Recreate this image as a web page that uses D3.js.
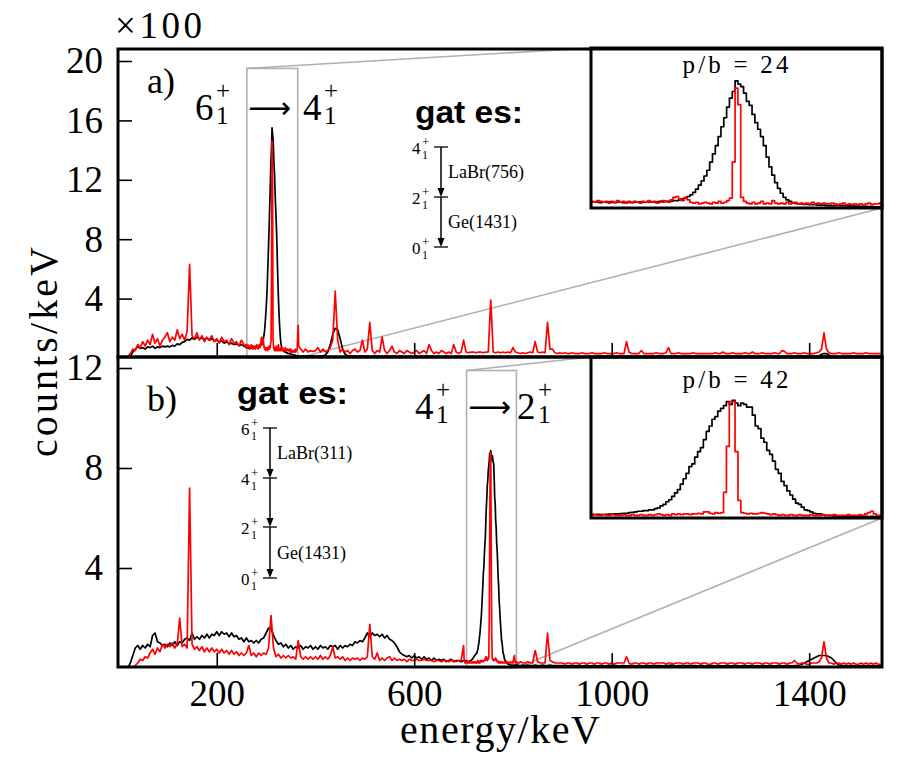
<!DOCTYPE html>
<html>
<head>
<meta charset="utf-8">
<script src="https://cdn.jsdelivr.net/npm/d3@7"></script>
<style>
  body { margin: 0; background: #fff; }
</style>
</head>
<body>
<div id="chart"></div>
<script>
"use strict";

// coarse spectra, 5 keV bins starting at 0 keV (counts / 100)
const binWidth = 5;

const aBlack = [
  0,0,0,0,0,0.1,0.4,0.6,0.75,0.65,0.7,0.6,0.75,0.7,0.8,0.65,0.75,0.7,0.8,0.75,
  0.8,0.75,0.85,0.8,0.95,0.9,1.05,1.1,1.25,1.2,1.35,1.25,1.4,1.3,1.35,1.25,1.35,1.2,1.3,1.15,
  1.2,1.1,1.15,1.0,1.1,0.95,1.0,0.9,0.95,0.85,0.9,0.8,0.85,0.75,0.8,0.7,0.75,0.7,0.8,1.4,
  8,15,8,2,0.6,0.4,0.3,0.25,0.2,0.2,0.18,0.15,0.15,0.15,0.12,0.12,0.12,0.12,0.12,0.12,
  0.12,0.12,0.15,0.15,0.2,0.4,0.9,1.6,2.0,1.9,1.3,0.6,0.25,0.15,0.15,0.12,0.12,0.12,0.12,0.12,
  0.12,0.12,0.1,0.12,0.12,0.1,0.12,0.1,0.12,0.12,0.1,0.12,0.12,0.1,0.12,0.12,0.1,0.1,0.12,0.1,
  0.1,0.12,0.1,0.12,0.1,0.15,0.1,0.12,0.1,0.1,0.12,0.1,0.1,0.12,0.1,0.1,0.1,0.12,0.1,0.1,
  0.1,0.08,0.1,0.1,0.08,0.1,0.1,0.08,0.1,0.1,0.08,0.1,0.1,0.08,0.1,0.1,0.08,0.1,0.1,0.08,
  0.1,0.08,0.1,0.1,0.08,0.1,0.1,0.1,0.08,0.1,0.1,0.08,0.1,0.1,0.08,0.1,0.1,0.08,0.1,0.1,
  0.08,0.1,0.1,0.08,0.1,0.1,0.08,0.1,0.1,0.1,0.08,0.1,0.1,0.08,0.1,0.1,0.1,0.08,0.1,0.1,
  0.1,0.08,0.1,0.1,0.12,0.1,0.08,0.1,0.1,0.08,0.1,0.1,0.08,0.1,0.1,0.08,0.1,0.1,0.08,0.1,
  0.1,0.1,0.08,0.1,0.1,0.08,0.1,0.1,0.08,0.1,0.1,0.1,0.08,0.1,0.1,0.08,0.1,0.1,0.08,0.1,
  0.08,0.1,0.1,0.08,0.1,0.1,0.08,0.1,0.1,0.08,0.1,0.1,0.1,0.08,0.1,0.1,0.08,0.1,0.1,0.08,
  0.1,0.1,0.08,0.1,0.1,0.08,0.1,0.1,0.08,0.1,0.1,0.08,0.1,0.1,0.08,0.1,0.1,0.12,0.1,0.1,
  0.1,0.08,0.1,0.1,0.15,0.25,0.3,0.3,0.2,0.1,0.08,0.1,0.08,0.1,0.08,0.1,0.08,0.1,0.08,0.1,
  0.08,0.1,0.08,0.1,0.08,0.1,0.08,0.1,0.08,0.1
];

const aRed = [
  0,0,0,0,0.1,0.3,0.6,0.5,0.9,0.7,1.1,0.8,1.2,0.9,1.6,1.0,1.3,0.8,1.2,1.4,
  1.7,1.1,1.4,1.2,1.9,1.3,1.6,1.2,1.8,6.3,1.5,1.3,1.7,1.2,1.5,1.1,1.4,1.2,1.5,1.1,
  1.3,1.0,1.4,1.1,1.2,0.9,1.3,1.0,1.1,0.8,1.2,0.9,1.0,0.8,1.1,0.8,0.9,0.7,1.4,1.0,
  2,10,3,0.8,0.7,0.5,0.7,0.4,0.6,0.4,0.6,0.5,0.6,2.2,0.6,0.4,0.6,0.4,0.5,0.45,
  0.5,0.7,0.4,0.6,0.4,0.5,0.7,1.2,4.5,1.2,0.4,0.6,0.4,0.5,0.3,0.5,0.6,0.4,0.5,1.2,
  0.4,0.6,2.4,0.5,0.3,0.5,0.4,1.4,0.5,0.3,0.5,0.8,0.4,0.3,0.5,0.4,0.3,0.5,0.4,0.3,
  0.4,0.5,0.3,0.4,0.5,0.3,0.9,0.5,0.3,0.4,0.3,0.5,0.4,0.3,0.4,0.3,0.9,0.4,0.3,0.4,
  1.2,0.4,0.35,0.4,0.4,0.35,0.4,0.4,0.35,0.4,0.4,3.9,0.4,0.35,0.4,0.35,0.4,0.35,0.4,0.35,
  0.7,0.4,0.35,0.3,0.35,0.3,0.35,0.4,0.35,1.1,0.4,0.35,0.4,0.35,2.4,0.6,0.6,0.35,0.3,0.35,
  0.3,0.35,0.3,0.3,0.35,0.3,0.3,0.3,0.35,0.3,0.3,0.3,0.35,0.3,0.3,0.3,0.3,0.35,0.3,0.3,
  0.3,0.3,0.35,0.3,0.3,0.3,1.1,0.4,0.3,0.3,0.3,0.3,0.5,0.3,0.3,0.3,0.3,0.3,0.35,0.3,
  0.3,0.3,0.35,0.7,0.3,0.3,0.3,0.35,0.3,0.3,0.3,0.3,0.3,0.35,0.3,0.3,0.3,0.3,0.3,0.3,
  0.3,0.3,0.35,0.3,0.3,0.4,0.3,0.3,0.3,0.35,0.3,0.3,0.3,0.3,0.35,0.3,0.3,0.4,0.3,0.3,
  0.3,0.35,0.3,0.3,0.3,0.3,0.35,0.3,0.3,0.5,0.45,0.3,0.3,0.3,0.35,0.3,0.3,0.3,0.35,0.3,
  0.3,0.3,0.3,0.35,0.4,0.6,1.7,0.6,0.35,0.3,0.3,0.3,0.35,0.3,0.3,0.3,0.3,0.3,0.35,0.3,
  0.3,0.3,0.3,0.35,0.3,0.3,0.3,0.3,0.3,0.3
];

const bBlack = [
  0,0,0,0,0,0.2,0.5,0.8,0.9,0.75,0.9,0.8,0.95,0.85,1.3,1.4,1.05,1.0,0.9,0.95,
  0.85,1.0,0.9,1.05,0.9,1.05,1.0,1.15,1.2,1.1,1.4,1.15,1.25,1.15,1.3,1.2,1.35,1.2,1.35,1.3,
  1.45,1.3,1.45,1.35,1.4,1.25,1.4,1.25,1.3,1.15,1.2,1.05,1.2,1.05,1.1,1.0,1.1,1.0,1.15,1.2,
  1.4,1.6,1.6,1.3,1.1,0.95,1.0,0.85,0.95,0.8,0.9,0.75,0.85,0.8,0.9,0.75,0.85,0.8,0.9,0.75,
  0.85,0.75,0.9,0.8,0.85,0.75,0.9,0.85,0.9,0.75,0.9,0.8,0.9,0.85,0.95,0.9,1.05,1.0,1.1,1.05,
  1.2,1.4,1.25,1.4,1.3,1.35,1.25,1.35,1.2,1.3,1.15,1.1,1.0,0.85,0.65,0.55,0.5,0.45,0.5,0.4,
  0.5,0.4,0.45,0.35,0.45,0.35,0.4,0.3,0.4,0.3,0.35,0.3,0.35,0.25,0.3,0.35,0.25,0.3,0.3,0.25,
  0.3,0.3,0.5,1.0,3,6,8.5,8.5,6,3,1,0.5,0.3,0.2,0.15,0.15,0.12,0.12,0.12,0.12,
  0.12,0.12,0.12,0.1,0.12,0.1,0.12,0.1,0.1,0.12,0.1,0.1,0.12,0.1,0.1,0.12,0.1,0.1,0.1,0.1,
  0.1,0.08,0.1,0.1,0.08,0.1,0.1,0.1,0.08,0.1,0.1,0.08,0.1,0.1,0.08,0.1,0.1,0.08,0.1,0.1,
  0.08,0.1,0.1,0.08,0.1,0.1,0.08,0.1,0.1,0.1,0.08,0.1,0.1,0.08,0.1,0.1,0.1,0.08,0.1,0.1,
  0.1,0.08,0.1,0.1,0.12,0.1,0.08,0.1,0.1,0.08,0.1,0.1,0.08,0.1,0.1,0.08,0.1,0.1,0.08,0.1,
  0.1,0.1,0.08,0.1,0.1,0.08,0.1,0.1,0.08,0.1,0.1,0.1,0.08,0.1,0.1,0.08,0.1,0.1,0.08,0.1,
  0.08,0.1,0.1,0.08,0.1,0.1,0.08,0.1,0.1,0.08,0.1,0.1,0.1,0.08,0.1,0.1,0.12,0.15,0.2,0.25,
  0.3,0.35,0.4,0.45,0.5,0.5,0.5,0.5,0.45,0.4,0.3,0.2,0.12,0.1,0.1,0.08,0.1,0.08,0.1,0.08,
  0.08,0.1,0.08,0.1,0.08,0.1,0.08,0.1,0.08,0.1
];

const bRed = [
  0,0,0,0,0,0,0,0.1,0.2,0.35,0.3,0.45,0.4,0.6,0.75,0.55,0.8,0.65,0.95,0.8,
  0.95,0.85,1.0,0.8,0.95,2.0,0.85,0.95,0.8,7.2,0.95,0.75,0.85,0.7,0.85,0.65,0.8,0.65,0.8,0.65,
  0.75,0.6,0.75,0.6,0.7,0.55,0.7,0.55,0.65,0.5,0.6,0.5,0.6,0.9,0.5,0.6,0.45,0.6,0.5,0.6,
  0.55,0.8,2.1,0.8,0.45,0.55,0.4,0.5,0.4,0.5,0.4,0.45,0.35,1.1,0.45,0.35,0.45,0.35,0.45,0.35,
  0.45,0.35,0.5,0.35,0.45,0.35,0.5,0.85,0.4,0.45,0.35,0.45,0.3,0.4,0.3,0.4,0.35,0.4,0.3,0.4,
  0.35,0.45,1.75,0.45,0.35,0.6,0.3,0.4,0.3,0.4,0.45,0.3,0.4,0.3,0.35,0.3,0.35,0.25,0.35,0.3,
  0.3,0.35,0.3,0.3,0.35,0.3,0.3,0.3,0.25,0.3,0.3,0.25,0.3,0.3,0.25,0.3,0.3,0.25,0.3,0.3,
  0.9,0.3,0.2,0.25,0.2,0.2,0.3,0.3,0.3,0.4,8.6,0.4,0.3,0.25,0.2,0.2,0.2,0.2,0.2,0.2,
  0.4,0.2,0.2,0.25,0.2,0.2,0.25,0.2,0.2,0.7,0.25,0.2,0.2,0.2,1.4,0.3,0.25,0.2,0.2,0.2,
  0.2,0.15,0.2,0.2,0.15,0.2,0.2,0.15,0.2,0.2,0.15,0.2,0.2,0.15,0.2,0.2,0.15,0.2,0.2,0.15,
  0.2,0.15,0.2,0.2,0.2,0.2,0.45,0.2,0.15,0.2,0.2,0.15,0.2,0.2,0.15,0.2,0.2,0.15,0.2,0.2,
  0.2,0.2,0.15,0.2,0.2,0.15,0.2,0.2,0.2,0.15,0.2,0.2,0.15,0.2,0.2,0.2,0.15,0.2,0.2,0.15,
  0.15,0.2,0.2,0.15,0.2,0.2,0.2,0.15,0.2,0.2,0.15,0.2,0.2,0.2,0.15,0.2,0.2,0.15,0.2,0.2,
  0.2,0.15,0.2,0.2,0.15,0.2,0.2,0.2,0.15,0.2,0.2,0.15,0.2,0.2,0.3,0.2,0.15,0.2,0.2,0.15,
  0.15,0.2,0.2,0.2,0.25,0.4,1.05,0.4,0.2,0.2,0.15,0.2,0.2,0.15,0.2,0.15,0.2,0.15,0.2,0.15,
  0.15,0.2,0.15,0.2,0.15,0.2,0.15,0.2,0.15,0.15
];

// fine 1 keV bins around the gated peaks (used in panels and insets)
const aWinStart = 258;
const aBlackWin = [
  0.75,0.7,0.7,0.75,0.7,0.7,0.65,0.7,0.7,0.75,
  0.7,0.65,0.7,0.7,0.65,0.7,0.7,0.65,0.7,0.7,
  0.75,0.7,0.7,0.7,0.75,0.7,0.75,0.8,0.75,0.8,
  0.8,0.85,0.9,0.9,1.0,1.1,1.2,1.4,1.6,1.9,
  2.3,2.8,3.3,3.9,4.6,5.6,6.6,7.6,8.7,9.9,
  11.0,12.3,13.4,14.2,15.5,15.1,14.8,14.0,13.0,12.5,
  11.4,10.4,9.6,8.7,7.6,6.2,5.0,4.0,3.1,2.4,
  1.8,1.3,1.0,0.8,0.65,0.55,0.5,0.5,0.45,0.45,
  0.4,0.4,0.4,0.35,0.35,0.35,0.3,0.3,0.3,0.3,
  0.3,0.28,0.28,0.25,0.25,0.25,0.22,0.22,0.2,0.2,
  0.2,0.18,0.18,0.15,0.15,0.15,0.15,0.15,0.15
];
const aRedWin = [
  0.8,0.9,0.7,0.8,0.7,0.9,0.8,0.7,0.8,0.6,
  0.8,0.7,0.9,0.7,0.8,0.6,0.8,0.7,0.8,0.7,
  0.6,0.8,0.7,0.9,0.7,0.8,0.6,0.7,0.9,0.8,
  0.7,1.0,1.3,1.4,1.1,0.9,1.3,1.0,0.7,0.6,
  0.7,0.5,0.6,0.7,0.6,0.5,0.7,0.6,0.8,0.6,
  0.7,0.9,1.2,5.6,14.6,12.6,1.3,0.8,0.6,0.5,
  0.7,0.5,0.6,0.8,0.5,0.6,0.5,0.9,0.6,0.5,
  0.6,0.5,0.7,0.5,0.6,0.7,0.5,0.6,0.5,0.6,
  0.5,0.7,0.5,0.6,0.5,0.6,0.5,0.5,0.6,0.5,
  0.4,0.5,0.6,0.4,0.5,0.4,0.5,0.4,0.5,0.4,
  0.5,0.6,0.4,0.5,0.5,0.6,1.5,2.2,0.8
];

const bWinStart = 700;
const bBlackWin = [
  0.3,0.3,0.28,0.3,0.27,0.28,0.27,0.26,0.27,0.25,
  0.26,0.27,0.28,0.28,0.3,0.3,0.32,0.35,0.35,0.4,
  0.42,0.45,0.5,0.5,0.55,0.55,0.6,0.6,0.7,0.75,
  0.9,1.0,1.2,1.35,1.6,1.85,2.1,2.5,2.9,3.3,
  3.8,4.0,4.5,4.9,5.2,5.8,6.4,6.8,7.3,7.5,
  7.9,8.1,8.3,8.6,8.4,8.7,8.5,8.3,8.5,8.4,
  8.2,8.2,7.6,6.8,6.6,5.9,5.6,5.0,4.7,4.2,
  3.6,3.3,2.7,2.4,2.0,1.7,1.4,1.1,1.0,0.8,
  0.6,0.55,0.45,0.35,0.3,0.3,0.25,0.2,0.2,0.2,
  0.15,0.15,0.15,0.15,0.12,0.12,0.12,0.12,0.12,0.12,
  0.12,0.12,0.1,0.12,0.1,0.12,0.1,0.12,0.1,0.12,
  0.1,0.12,0.1
];
const bRedWin = [
  0.9,0.4,0.25,0.2,0.25,0.2,0.2,0.25,0.2,0.2,
  0.25,0.2,0.2,0.25,0.2,0.2,0.2,0.25,0.2,0.2,
  0.25,0.2,0.2,0.25,0.2,0.2,0.25,0.2,0.25,0.3,
  0.25,0.2,0.25,0.2,0.3,0.25,0.3,0.25,0.3,0.3,
  0.25,0.3,0.3,0.35,0.3,0.45,0.45,0.35,0.3,0.4,
  0.35,0.4,1.9,5.3,8.6,8.6,4.9,1.3,0.4,0.35,
  0.3,0.35,0.3,0.3,0.35,0.4,0.35,0.3,0.25,0.3,
  0.25,0.2,0.25,0.2,0.2,0.25,0.2,0.2,0.25,0.2,
  0.2,0.2,0.25,0.2,0.2,0.2,0.25,0.2,0.2,0.2,
  0.25,0.2,0.2,0.2,0.2,0.25,0.2,0.2,0.2,0.25,
  0.2,0.3,0.4,0.5,0.3,0.2,0.2,0.2,0.25,0.2,
  0.2,0.2,0.2
];

const xTicks = [200, 600, 1000, 1400];
const yTicksA = [4, 8, 12, 16, 20];
const yTicksB = [4, 8, 12];
const insetA = [261, 364];   // keV window shown in inset a
const insetB = [706, 807];
const insetMaxA = 19.5;
const insetMaxB = 11.9;
const ratioA = "p/b = 24";
const ratioB = "p/b = 42";
const levelsA = ["4", "2", "0"];
const levelsB = ["6", "4", "2", "0"];
const gateLabelsA = ["LaBr(756)", "Ge(1431)"];
const gateLabelsB = ["LaBr(311)", "", "Ge(1431)"];

const serif = "'Liberation Serif', 'Times New Roman', serif";
const sans = "'Liberation Sans', Arial, sans-serif";

const wS = 900, hS = 760;
const left = 118, right = 882;
const topA = 49, midY = 357, bottomB = 667;

const svg = d3.select("#chart").append("svg")
  .attr("width", wS).attr("height", hS)
  .style("font-family", serif);

svg.append("rect").attr("width", wS).attr("height", hS).attr("fill", "#fff");

const x = d3.scaleLinear().domain([0, 1547.5]).range([left, right]);
const yA = d3.scaleLinear().domain([0, 20]).range([358, 61]);
const yB = d3.scaleLinear().domain([0, 12]).range([668, 368]);

const coarse = (vals) => vals.map((v, i) => [i * binWidth, v]);
const fine = (vals, start) => vals.map((v, i) => [start + i, v]);
// coarse bins outside the window, fine bins inside it
const merged = function (vals, win, start) {
  const end = start + win.length - 1;
  return coarse(vals)
    .filter((d) => d[0] < start || d[0] > end)
    .concat(fine(win, start))
    .sort((a, b) => a[0] - b[0]);
};

const defs = svg.append("defs");
const clip = function (id, x0, y0, x1, y1) {
  defs.append("clipPath").attr("id", id)
    .append("rect").attr("x", x0).attr("y", y0)
    .attr("width", x1 - x0).attr("height", y1 - y0);
};
clip("clipA", left, topA, right, midY);
clip("clipB", left, midY, right, bottomB);

const gray = "#b0b0b0";

// inset boxes and connector lines (behind data)
const markInset = function (xs, ys, win, maxY, inset) {
  const x0 = xs(win[0]), x1 = xs(win[1]);
  const y0 = ys(maxY), y1 = ys(0);
  const g = svg.append("g").attr("stroke", gray).attr("stroke-width", 1.6).attr("fill", "none");
  g.append("rect").attr("x", x0).attr("y", y0).attr("width", x1 - x0).attr("height", y1 - y0);
  g.append("line").attr("x1", x0).attr("y1", y0).attr("x2", inset.x0).attr("y2", inset.y0);
  g.append("line").attr("x1", x1).attr("y1", y1).attr("x2", inset.x1).attr("y2", inset.y1);
};

const insetBoxA = { x0: 591, y0: 48, x1: right, y1: 208 };
const insetBoxB = { x0: 591, y0: midY, x1: right, y1: 518 };

markInset(x, yA, insetA, insetMaxA, insetBoxA);
markInset(x, yB, insetB, insetMaxB, insetBoxB);

const drawSpectrum = function (clipId, xs, ys, data, color, curve) {
  const line = d3.line().x((d) => xs(d[0])).y((d) => ys(d[1])).curve(curve);
  svg.append("path")
    .attr("clip-path", `url(#${clipId})`)
    .attr("d", line(data))
    .attr("fill", "none")
    .attr("stroke", color)
    .attr("stroke-width", 1.7)
    .attr("stroke-linejoin", "round");
};

drawSpectrum("clipA", x, yA, merged(aBlack, aBlackWin, aWinStart), "#000", d3.curveLinear);
drawSpectrum("clipA", x, yA, merged(aRed, aRedWin, aWinStart), "#ff0000", d3.curveLinear);
drawSpectrum("clipB", x, yB, merged(bBlack, bBlackWin, bWinStart), "#000", d3.curveLinear);
drawSpectrum("clipB", x, yB, merged(bRed, bRedWin, bWinStart), "#ff0000", d3.curveLinear);

// insets
const drawInset = function (id, box, win, maxY, black, red, start, label, labelY) {
  clip(id, box.x0, box.y0, box.x1, box.y1);
  svg.append("rect").attr("x", box.x0).attr("y", box.y0)
    .attr("width", box.x1 - box.x0).attr("height", box.y1 - box.y0).attr("fill", "#fff");
  const xi = d3.scaleLinear().domain(win).range([box.x0, box.x1]);
  const yi = d3.scaleLinear().domain([0, maxY]).range([box.y1, box.y0]);
  drawSpectrum(id, xi, yi, fine(black, start), "#000", d3.curveStepAfter);
  drawSpectrum(id, xi, yi, fine(red, start), "#ff0000", d3.curveStepAfter);
  svg.append("text").attr("x", (box.x0 + box.x1) / 2 - 1).attr("y", labelY)
    .attr("text-anchor", "middle").attr("font-size", 25)
    .attr("textLength", 106).attr("lengthAdjust", "spacing")
    .text(label);
  svg.append("rect").attr("x", box.x0).attr("y", box.y0)
    .attr("width", box.x1 - box.x0).attr("height", box.y1 - box.y0)
    .attr("fill", "none").attr("stroke", "#000").attr("stroke-width", 3);
};

drawInset("clipInA", insetBoxA, insetA, insetMaxA, aBlackWin, aRedWin, aWinStart, ratioA, 73);
drawInset("clipInB", insetBoxB, insetB, insetMaxB, bBlackWin, bRedWin, bWinStart, ratioB, 388);

// axes (inward ticks)
const styleAxis = function (g) {
  g.select(".domain").remove();
  g.selectAll(".tick line").attr("stroke", "#000").attr("stroke-width", 1.6);
  g.selectAll(".tick text").attr("font-family", serif).attr("font-size", 37).attr("fill", "#000");
};

svg.append("g").attr("transform", `translate(${left},0)`)
  .call(d3.axisLeft(yA).tickValues(yTicksA).tickSize(-14).tickPadding(15).tickFormat(d3.format("d")))
  .call(styleAxis);
svg.append("g").attr("transform", `translate(${left},0)`)
  .call(d3.axisLeft(yB).tickValues(yTicksB).tickSize(-14).tickPadding(15).tickFormat(d3.format("d")))
  .call(styleAxis);
svg.append("g").attr("transform", `translate(0,${midY})`)
  .call(d3.axisBottom(x).tickValues(xTicks).tickSize(-14).tickFormat(""))
  .call(styleAxis);
svg.append("g").attr("transform", `translate(0,${bottomB})`)
  .call(d3.axisBottom(x).tickValues(xTicks).tickSize(-14).tickPadding(13).tickFormat(d3.format("d")))
  .call(styleAxis);

// panel frames
svg.append("rect").attr("x", left).attr("y", topA)
  .attr("width", right - left).attr("height", midY - topA)
  .attr("fill", "none").attr("stroke", "#000").attr("stroke-width", 3);
svg.append("rect").attr("x", left).attr("y", midY)
  .attr("width", right - left).attr("height", bottomB - midY)
  .attr("fill", "none").attr("stroke", "#000").attr("stroke-width", 3);

// texts
const txt = function (xp, yp, s, size, opts) {
  const t = svg.append("text").attr("x", xp).attr("y", yp)
    .attr("font-size", size).attr("fill", "#000").text(s);
  if (opts) Object.keys(opts).forEach((k) => t.attr(k, opts[k]));
  return t;
};

txt(115, 38, "\u00d7100", 37, { textLength: 87, lengthAdjust: "spacing" });
txt(147, 93, "a)", 36);
txt(147, 411, "b)", 36);

svg.append("text")
  .attr("transform", "translate(57,352) rotate(-90)")
  .attr("text-anchor", "middle").attr("font-size", 40)
  .attr("textLength", 210).attr("lengthAdjust", "spacing")
  .text("counts/keV");
txt(500, 743, "energy/keV", 40, { "text-anchor": "middle", textLength: 200, lengthAdjust: "spacing" });

// transition label  a_1^+ --> b_1^+  as one text element
const transition = function (x1, xArrow, x2, base, from, to) {
  const t = svg.append("text").attr("y", base).attr("font-size", 37).attr("fill", "#000");
  const lvl = function (xp, n) {
    t.append("tspan").attr("x", xp).attr("y", base).attr("font-size", 37).text(n);
    t.append("tspan").attr("x", xp + 21).attr("y", base - 21).attr("font-size", 25).text("+");
    t.append("tspan").attr("x", xp + 21).attr("y", base + 4).attr("font-size", 25).text("1");
  };
  lvl(x1, from);
  t.append("tspan").attr("x", xArrow).attr("y", base - 2)
    .attr("font-family", "'DejaVu Sans', sans-serif").attr("font-size", 30).text("\u27f6");
  lvl(x2, to);
};
transition(195, 248, 303, 120, "6", "4");
transition(415, 468, 517, 419, "4", "2");

// "gates:" headings
txt(415, 123, "gat es:", 31, { "font-family": sans, "font-weight": "bold", textLength: 108, lengthAdjust: "spacingAndGlyphs" });
txt(237, 404, "gat es:", 31, { "font-family": sans, "font-weight": "bold", textLength: 111, lengthAdjust: "spacingAndGlyphs" });

// level schemes
const levelScheme = function (lx, ys, labels, gates) {
  const g = svg.append("g");
  labels.forEach((lab, i) => {
    const ly = ys[i];
    g.append("line").attr("x1", lx - 7).attr("x2", lx + 7).attr("y1", ly).attr("y2", ly)
      .attr("stroke", "#000").attr("stroke-width", 1.3);
    const t = g.append("text").attr("x", lx - 29).attr("y", ly + 7).attr("font-size", 17);
    t.append("tspan").text(lab);
    t.append("tspan").attr("x", lx - 19).attr("y", ly - 1).attr("font-size", 13).text("+");
    t.append("tspan").attr("x", lx - 19).attr("y", ly + 12).attr("font-size", 12).text("1");
    if (i < labels.length - 1) {
      const ny = ys[i + 1];
      g.append("line").attr("x1", lx).attr("x2", lx).attr("y1", ly).attr("y2", ny - 6)
        .attr("stroke", "#000").attr("stroke-width", 1.5);
      g.append("path")
        .attr("d", `M${lx - 3.5},${ny - 9} L${lx + 3.5},${ny - 9} L${lx},${ny} Z`)
        .attr("fill", "#000");
      if (gates[i]) {
        g.append("text").attr("x", lx + 7).attr("y", (ly + ny) / 2 + 6)
          .attr("font-size", 18).text(gates[i]);
      }
    }
  });
};

levelScheme(441, [147, 197, 247], levelsA, gateLabelsA);
levelScheme(270, [428, 478, 527, 578], levelsB, gateLabelsB);
</script>
</body>
</html>
